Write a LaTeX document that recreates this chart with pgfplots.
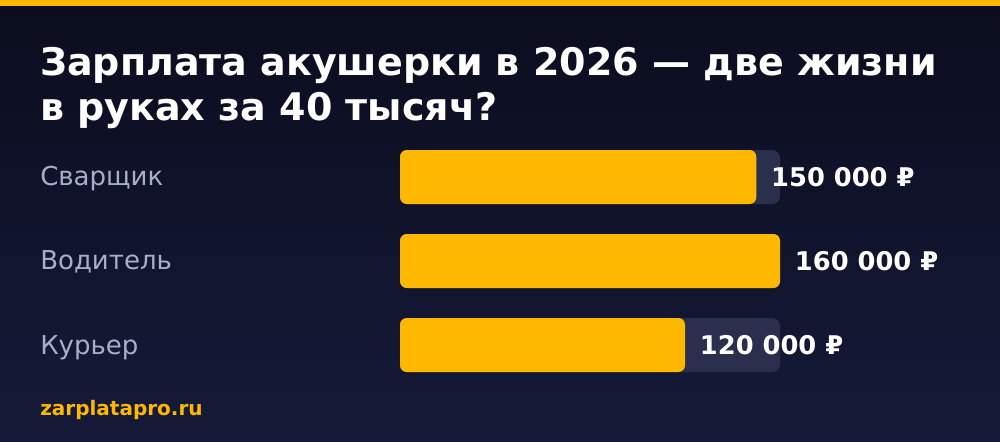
\documentclass[border=0pt]{standalone}
\usepackage{fontspec}
\setmainfont{DejaVu Sans}
\usepackage{pgfplots}
\pgfplotsset{compat=1.18}

\definecolor{bgtop}{HTML}{0B0D1E}
\definecolor{bgbot}{HTML}{151A38}
\definecolor{gold}{HTML}{FFB800}
\definecolor{track}{HTML}{2A2F4E}
\definecolor{lab}{HTML}{A9ADC8}

\begin{document}
\begin{tikzpicture}
% 1 px = 0.75pt, picture is 1000 x 442 px
\useasboundingbox (0,0) rectangle (750pt,-331.5pt);
\shade[top color=bgtop, bottom color=bgbot] (0,0) rectangle (750pt,-331.5pt);
\fill[gold] (0,0) rectangle (750pt,-4.5pt);

\node[anchor=base west, inner sep=0, text=white, font=\fontsize{28.5pt}{34pt}\bfseries]
  at (30pt,-57pt) {Зарплата акушерки в 2026 — две жизни};
\node[anchor=base west, inner sep=0, text=white, font=\fontsize{28.5pt}{34pt}\bfseries]
  at (30pt,-90.75pt) {в руках за 40 тысяч?};

\begin{axis}[
  at={(300pt,-101.25pt)}, anchor=north west,
  scale only axis,
  width=285pt, height=189pt,
  xmin=0, xmax=160000,
  ymin=-0.5, ymax=2.5,
  y dir=reverse,
  axis lines=none,
  ytick=\empty, xtick=\empty,
  xbar, bar width=40.5pt, bar shift=0pt,
  clip=false,
]
% track
\addplot[draw=none, fill=track, rounded corners=6pt] coordinates {
  (160000,0) (160000,1) (160000,2)};
% values
\addplot[draw=none, fill=gold, rounded corners=5pt,
  point meta=explicit symbolic,
  nodes near coords,
  every node near coord/.style={anchor=west, inner sep=0, xshift=11pt,
    text=white, font=\fontsize{19.3pt}{23pt}\bfseries}]
  coordinates {
  (150000,0) [150 000 ₽]
  (160000,1) [160 000 ₽]
  (120000,2) [120 000 ₽]};
\end{axis}

% category labels
\foreach \lbl/\yy in {Сварщик/-139.5pt, Водитель/-202.5pt, Курьер/-265.5pt}
  \node[anchor=base west, inner sep=0, text=lab, font=\fontsize{19.5pt}{23pt}\selectfont] at (30pt,\yy) {\lbl};

\node[anchor=base west, inner sep=0, text=gold, font=\fontsize{15pt}{18pt}\bfseries]
  at (30pt,-311.25pt) {zarplatapro.ru};
\end{tikzpicture}
\end{document}
